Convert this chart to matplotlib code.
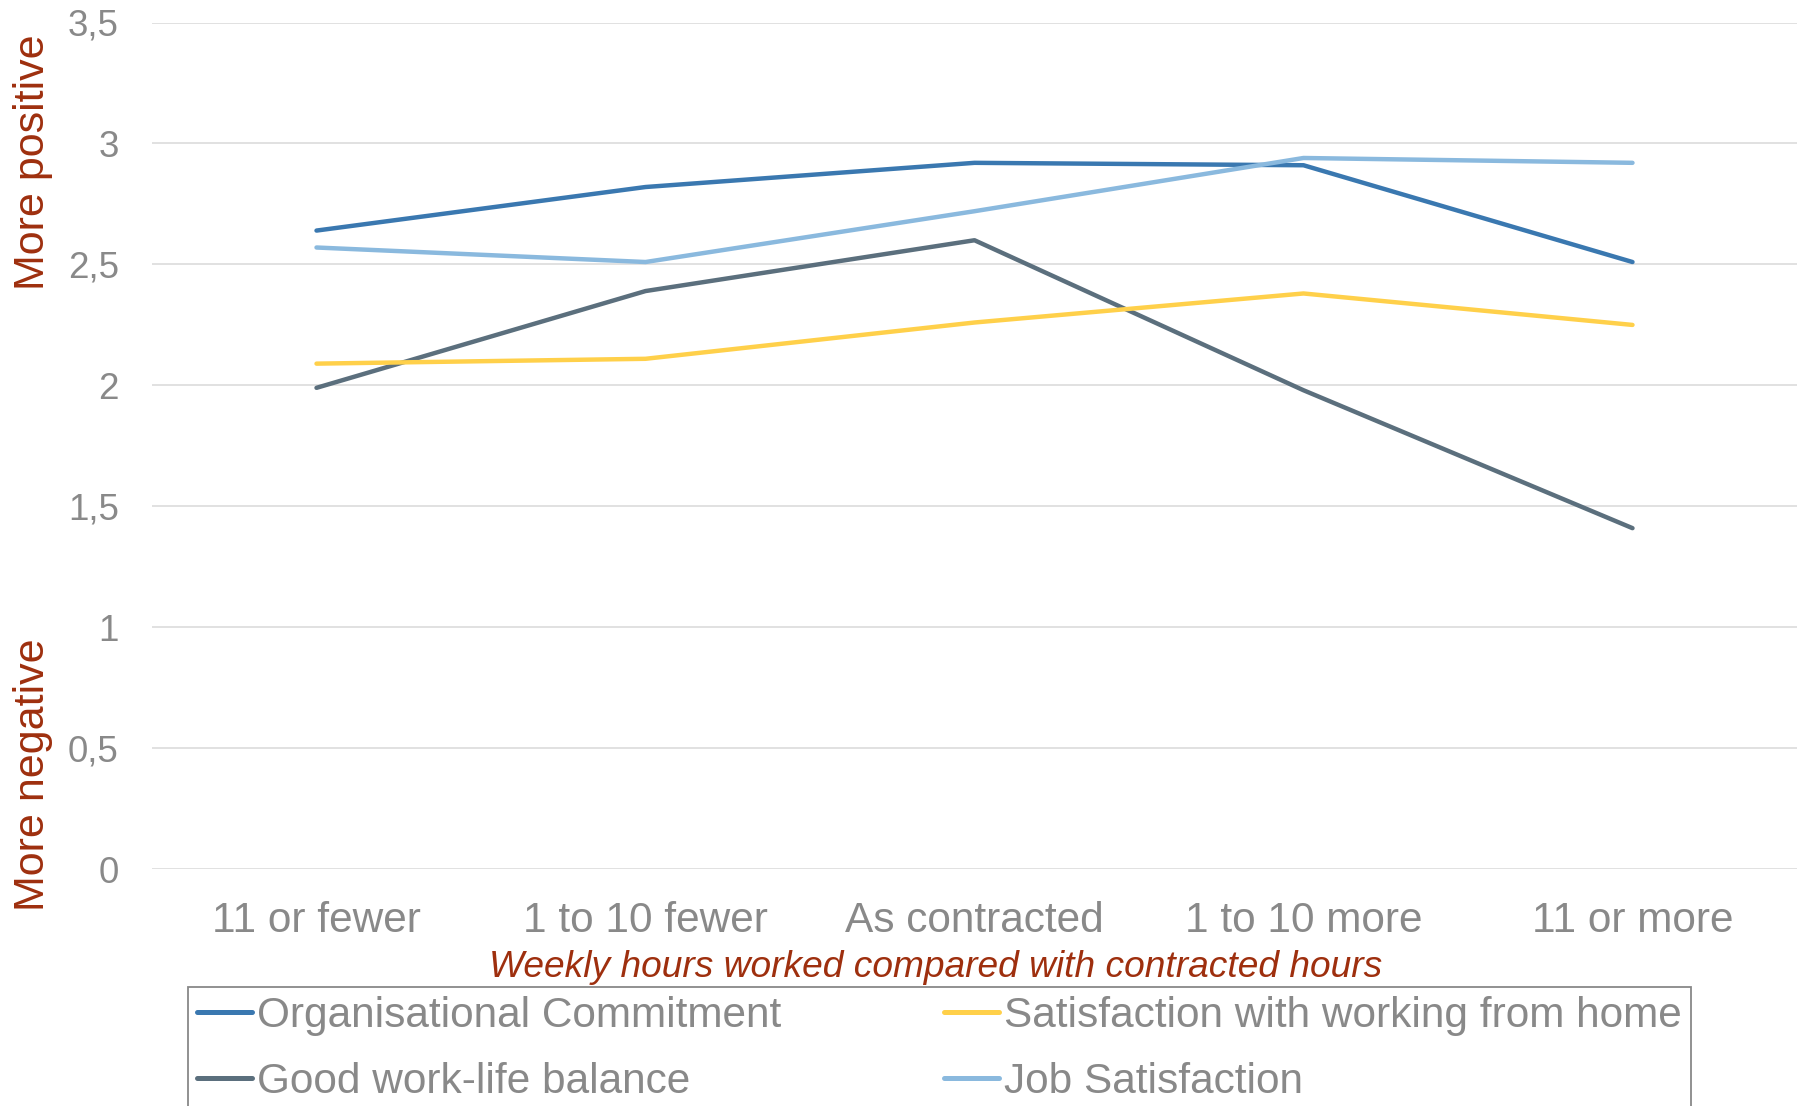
import matplotlib
matplotlib.use("Agg")
import matplotlib.pyplot as plt

plt.rcParams['font.family'] = ['Liberation Sans', 'DejaVu Sans']

categories = ["11 or fewer", "1 to 10 fewer", "As contracted", "1 to 10 more", "11 or more"]
org_commitment = [2.64, 2.82, 2.92, 2.91, 2.51]
wfh_satisfaction = [2.09, 2.11, 2.26, 2.38, 2.25]
work_life_balance = [1.99, 2.39, 2.60, 1.98, 1.41]
job_satisfaction = [2.57, 2.51, 2.72, 2.94, 2.92]

series_names = ["Organisational Commitment", "Satisfaction with working from home",
                "Good work-life balance", "Job Satisfaction"]
y_ticks = [0, 0.5, 1, 1.5, 2, 2.5, 3, 3.5]
y_tick_labels = ["0", "0,5", "1", "1,5", "2", "2,5", "3", "3,5"]

colors = {
    "Organisational Commitment": "#3A78B0",
    "Satisfaction with working from home": "#FFD04A",
    "Good work-life balance": "#5B6F7D",
    "Job Satisfaction": "#8AB9DE",
}
tick_color = "#898989"
title_color = "#9E2F0E"

W, H = 1806, 1106
fig = plt.figure(figsize=(W / 100, H / 100), dpi=100)
ax_left, ax_right, ax_top, ax_bottom = 152, 1797, 22.5, 869.3
ax = fig.add_axes([ax_left / W, 1 - ax_bottom / H, (ax_right - ax_left) / W, (ax_bottom - ax_top) / H])

x = list(range(len(categories)))
values = {
    "Organisational Commitment": org_commitment,
    "Satisfaction with working from home": wfh_satisfaction,
    "Good work-life balance": work_life_balance,
    "Job Satisfaction": job_satisfaction,
}
lines = {}
for name in ["Organisational Commitment", "Good work-life balance",
             "Satisfaction with working from home", "Job Satisfaction"]:
    (ln,) = ax.plot(x, values[name], color=colors[name], lw=3.2,
                    solid_capstyle="round", solid_joinstyle="round", label=name, zorder=3)
    lines[name] = ln

ax.set_xlim(-0.5, len(categories) - 0.5)
ax.set_ylim(0, 3.5)
ax.set_yticks(y_ticks)
ax.set_yticklabels(y_tick_labels)
ax.set_xticks(x)
ax.set_xticklabels(categories)
ax.tick_params(axis="y", length=0, pad=24, labelsize=26.5, labelcolor=tick_color)
ax.tick_params(axis="x", length=0, pad=23, labelsize=30.5, labelcolor=tick_color)
ax.grid(axis="y", color="#DEDEDE", lw=1.3)
ax.set_axisbelow(True)
for s in ax.spines.values():
    s.set_visible(False)

# axis annotations
fig.text(33 / W, 1 - 162.5 / H, "More positive", rotation=90, ha="center", va="center",
         fontsize=31, color=title_color)
fig.text(33 / W, 1 - 775 / H, "More negative", rotation=90, ha="center", va="center",
         fontsize=31, color=title_color)
fig.text(935.5 / W, 1 - 977 / H, "Weekly hours worked compared with contracted hours",
         ha="center", va="baseline", fontsize=26.7, style="italic", color=title_color)

handles = [lines[n] for n in ["Organisational Commitment", "Good work-life balance",
                              "Satisfaction with working from home", "Job Satisfaction"]]
leg = fig.legend(handles=handles, labels=[h.get_label() for h in handles], ncol=2,
                 loc="upper left", bbox_to_anchor=(188 / W, 1 - 987 / H),
                 fontsize=30.5, frameon=True, fancybox=False, borderpad=0.22,
                 handlelength=1.3, handletextpad=0.12, columnspacing=3.82,
                 labelspacing=0.6, borderaxespad=0)
leg.get_frame().set_edgecolor("#6A6A6A")
leg.get_frame().set_linewidth(1.3)
for t in leg.get_texts():
    t.set_color(tick_color)
for h in leg.get_lines():
    h.set_linewidth(3.6)

fig.savefig("out.png", dpi=100)
